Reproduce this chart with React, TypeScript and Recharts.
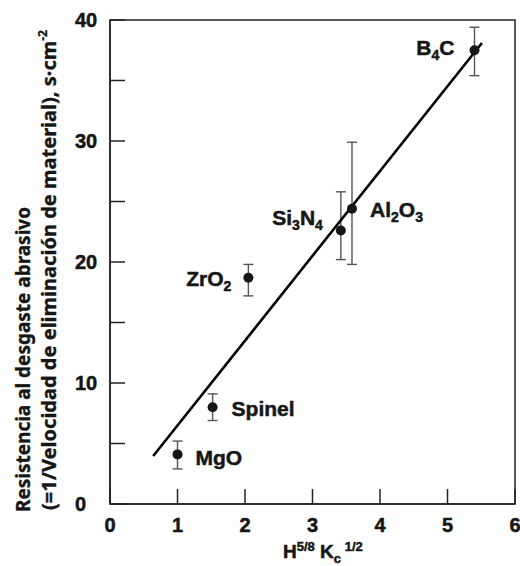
import React from 'react';
import { ScatterChart, Scatter, XAxis, YAxis, ErrorBar, ReferenceArea } from 'recharts';

// ---- data ----
const materials = ['MgO', 'Spinel', 'ZrO2', 'Si3N4', 'Al2O3', 'B4C'];
const xValues = [1.0, 1.52, 2.05, 3.42, 3.585, 5.4];
const yValues = [4.1, 8.0, 18.7, 22.6, 24.4, 37.5];
const lowerBounds = [2.9, 6.9, 17.2, 20.2, 19.8, 35.4];
const upperBounds = [5.2, 9.1, 19.8, 25.8, 29.9, 39.4];

const fitLineX = [0.64, 5.51];
const fitLineY = [3.97, 38.1];

const xTicks = [0, 1, 2, 3, 4, 5, 6];
const yTicks = [0, 5, 10, 15, 20, 25, 30, 35, 40];
const yTickLabels = ['0', '', '10', '', '20', '', '30', '', '40'];

const yTitleLine1 = 'Resistencia al desgaste abrasivo';
const yTitleLine2 = '(=1/Velocidad de eliminación de material), s·cm';
const yTitleSup = '-2';

// ---- tables built from the arrays ----
const points = materials.map((name, i) => ({
  name,
  x: xValues[i],
  y: yValues[i],
  err: [yValues[i] - lowerBounds[i], upperBounds[i] - yValues[i]],
}));
const fitLine = fitLineX.map((x, i) => ({ x, y: fitLineY[i] }));

// ---- styles ----
const FONT = '"Liberation Sans", Arial, Helvetica, sans-serif';
const TITLE_FONT = '"Noto Sans", "Open Sans", sans-serif';
const INK = '#161616';
const heavy = { stroke: INK, strokeWidth: 0.5 };

const labelPlacement: Record<string, { anchor: 'start' | 'end'; dx: number; dy: number }> = {
  MgO: { anchor: 'start', dx: 18, dy: 11 },
  Spinel: { anchor: 'start', dx: 19, dy: 9 },
  ZrO2: { anchor: 'end', dx: -17, dy: 8 },
  Si3N4: { anchor: 'end', dx: -18, dy: -6 },
  Al2O3: { anchor: 'start', dx: 18, dy: 8 },
  B4C: { anchor: 'end', dx: -20, dy: 5 },
};

function formula(name: string) {
  const parts = name.split(/(\d+)/).filter((p) => p.length > 0);
  const out: React.ReactNode[] = [];
  let shifted = false;
  parts.forEach((p, i) => {
    const isNum = /^\d+$/.test(p);
    if (isNum) {
      out.push(
        <tspan key={i} fontSize={14} dy={5}>
          {p}
        </tspan>
      );
      shifted = true;
    } else {
      out.push(
        <tspan key={i} fontSize={21} dy={shifted ? -5 : 0}>
          {p}
        </tspan>
      );
      shifted = false;
    }
  });
  return out;
}

const PointShape = (props: any) => {
  const { cx, cy, payload } = props;
  if (cx == null || cy == null) return <g />;
  const p = labelPlacement[payload.name];
  return (
    <g>
      <circle cx={cx} cy={cy} r={5} fill={INK} />
      <text
        x={cx + p.dx}
        y={cy + p.dy}
        textAnchor={p.anchor}
        fontFamily={FONT}
        fontWeight="bold"
        fontSize={21}
        fill={INK}
        {...heavy}
      >
        {formula(payload.name)}
      </text>
    </g>
  );
};

const NoShape = () => <g />;

const XTick = (props: any) => {
  const { x, y, payload } = props;
  return (
    <g>
      <line x1={x} y1={y} x2={x} y2={y - 15} stroke="#222" strokeWidth={1.5} />
      <text
        x={x}
        y={y + 28}
        textAnchor="middle"
        fontFamily={FONT}
        fontWeight="bold"
        fontSize={20}
        fill={INK}
        {...heavy}
      >
        {payload.value}
      </text>
    </g>
  );
};

const YTick = (props: any) => {
  const { x, y, payload } = props;
  const label = yTickLabels[yTicks.indexOf(payload.value)];
  return (
    <g>
      <line x1={x} y1={y} x2={x + 15} y2={y} stroke="#222" strokeWidth={1.5} />
      {label ? (
        <text
          x={x - 35}
          y={y + 7}
          textAnchor="start"
          fontFamily={FONT}
          fontWeight="bold"
          fontSize={20}
          fill={INK}
          {...heavy}
        >
          {label}
        </text>
      ) : null}
    </g>
  );
};

const XTitle = () => (
  <text x={283} y={558} fontFamily={FONT} fontWeight="bold" fill={INK} fontSize={19} {...heavy}>
    <tspan fontSize={19}>H</tspan>
    <tspan fontSize={13} dy={-7}>5/8</tspan>
    <tspan fontSize={19} dy={7}> K</tspan>
    <tspan fontSize={13} dy={5}>c</tspan>
    <tspan fontSize={13} dy={-12}> 1/2</tspan>
  </text>
);

const YTitle = () => (
  <g>
    <text
      transform="translate(30,512) rotate(-90)"
      textAnchor="start"
      fontFamily={TITLE_FONT}
      fontWeight={700}
      fill={INK}
      stroke={INK}
      strokeWidth={0.35}
      fontSize={20}
      textLength={305}
      lengthAdjust="spacingAndGlyphs"
    >
      {yTitleLine1}
    </text>
    <text
      transform="translate(56,510) rotate(-90)"
      textAnchor="start"
      fontFamily={TITLE_FONT}
      fontWeight={700}
      fill={INK}
      stroke={INK}
      strokeWidth={0.35}
      fontSize={20}
      textLength={480}
      lengthAdjust="spacingAndGlyphs"
    >
      {yTitleLine2}
      <tspan fontSize={12} dy={-9}>{yTitleSup}</tspan>
    </text>
  </g>
);

export default function App() {
  return (
    <div style={{ position: 'absolute', left: 0, top: 0, background: '#fff' }}>
      <ScatterChart width={520} height={566} margin={{ top: 20, right: 5, bottom: 0, left: 0 }}>
        <XAxis
          type="number"
          dataKey="x"
          domain={[0, 6]}
          ticks={xTicks}
          interval={0}
          allowDataOverflow
          tickSize={0}
          tickMargin={0}
          tickLine={false}
          tick={<XTick />}
          axisLine={{ stroke: '#222', strokeWidth: 1.5 }}
          height={62}
          label={<XTitle />}
        />
        <YAxis
          type="number"
          dataKey="y"
          domain={[0, 40]}
          ticks={yTicks}
          interval={0}
          allowDataOverflow
          tickSize={0}
          tickMargin={0}
          tickLine={false}
          tick={<YTick />}
          axisLine={{ stroke: '#222', strokeWidth: 1.5 }}
          width={110}
          label={<YTitle />}
        />
        <ReferenceArea x1={0} x2={6} y1={0} y2={40} fill="none" stroke="#222" strokeWidth={1.5} />
        <Scatter
          data={fitLine}
          line={{ stroke: '#000', strokeWidth: 2.6 }}
          shape={NoShape}
          isAnimationActive={false}
        />
        <Scatter data={points} shape={PointShape} isAnimationActive={false}>
          <ErrorBar dataKey="err" direction="y" width={5} stroke="#555" strokeWidth={1.4} isAnimationActive={false} />
        </Scatter>
      </ScatterChart>
    </div>
  );
}
